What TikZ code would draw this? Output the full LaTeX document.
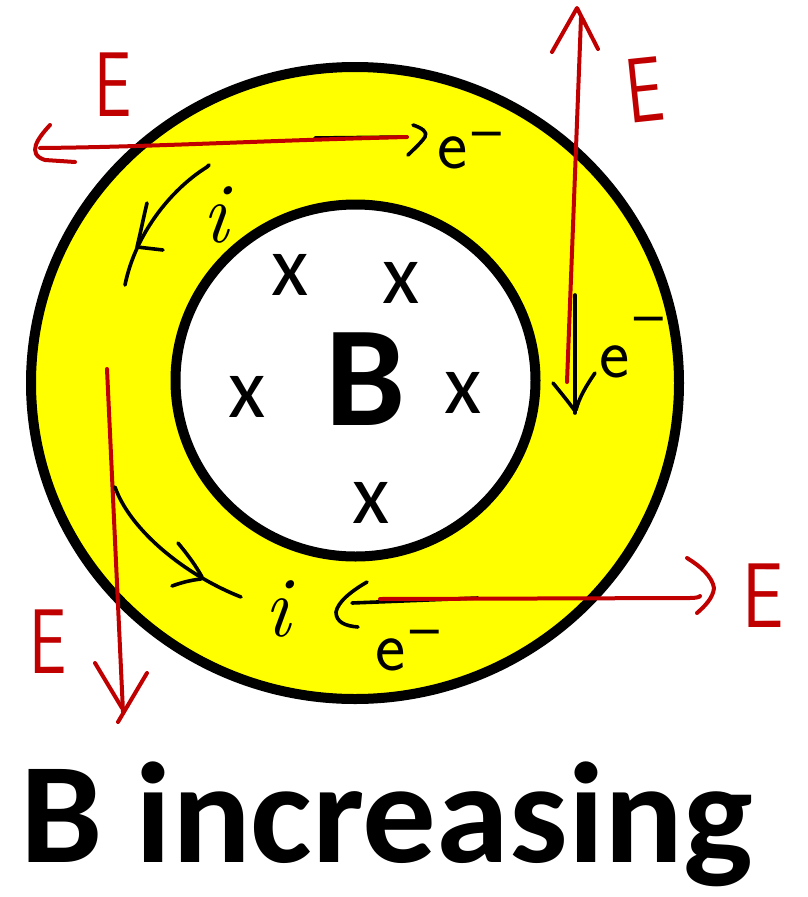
\documentclass[tikz,border=0pt]{standalone}
\usepackage{fontspec}
\newfontfamily\carlito{Carlito}
\newfontfamily\dejavu{DejaVu Sans}
\definecolor{inkred}{RGB}{192,0,0}
\definecolor{ringyellow}{RGB}{255,255,0}
\newcommand\eminus[1]{e\raisebox{#1}{\dejavu\fontsize{46}{46}\selectfont −}}
\begin{document}
\begin{tikzpicture}[x=1pt,y=-1pt,
  redink/.style={draw=inkred,line width=4pt,line cap=round,line join=round},
  blackink/.style={draw=black,line width=3.6pt,line cap=round,line join=round},
  ringline/.style={draw=black,line width=10pt},
  bigB/.style={inner sep=0pt,font=\carlito\bfseries\fontsize{143}{143}\selectfont},
  titletext/.style={inner sep=0pt,font=\carlito\bfseries\fontsize{138}{138}\selectfont},
  cross/.style={inner sep=0pt,font=\carlito\fontsize{86}{86}\selectfont},
  Elabel/.style={inner sep=0pt,text=inkred,font=\sffamily\fontsize{92}{92}\selectfont},
  elabel/.style={inner sep=0pt,anchor=base west,font=\sffamily\fontsize{72}{72}\selectfont},
  ilabel/.style={inner sep=0pt,font=\itshape\fontsize{86}{86}\selectfont}]
\useasboundingbox (0,0) rectangle (807,897);
\fill[white] (0,0) rectangle (807,897);
% ring
\fill[ringyellow,even odd rule] (355,383) ellipse [x radius=324pt,y radius=316pt]
      (355.5,380.5) ellipse [x radius=180pt,y radius=176pt];
\draw[ringline] (355,383) ellipse [x radius=324pt,y radius=316pt];
\draw[ringline] (355.5,380.5) ellipse [x radius=180pt,y radius=176pt];
% inner labels
\node[bigB,anchor=base] (Bc) at (366,425) {B};
\node[cross] (x1) at (290,275) {x};
\node[cross] (x2) at (401,283) {x};
\node[cross] (x3) at (247,397) {x};
\node[cross] (x4) at (463,393) {x};
\node[cross] (x5) at (371,503) {x};
% title
\node[titletext,anchor=base west] (title) at (20,862) {\scalebox{1.065}[1.04]{B increasing}};
% E labels
\node[Elabel] (E1) at (113,85) {\scalebox{0.72}[1]{E}};
\node[Elabel,rotate=6] (E2) at (645,90) {\scalebox{0.72}[1]{E}};
\node[Elabel] (E3) at (763,596) {\scalebox{0.8}[1]{E}};
\node[Elabel] (E4) at (48,642) {\scalebox{0.72}[1]{E}};
% e- labels
\node[elabel] (e1) at (437,168) {\eminus{20pt}};
\node[elabel] (e2) at (599,377) {\eminus{44pt}};
\node[elabel] (e3) at (375,670) {\eminus{24pt}};
% i labels
\node[ilabel] (i1) at (215,215) {i};
\node[ilabel] (i2) at (277,609) {i};
% ---- top arrow (E to the left, e- to the right)
\coordinate (t1) at (407,137);
\coordinate (t2) at (40,148);
\draw[blackink] (315,138) -- (t1);
\draw[redink] (t1) .. controls (250,141) and (150,147) .. (t2);
\draw[redink] (50,125) .. controls (38,138) and (26,154) .. (45,160) -- (75,162);
\draw[blackink] (413,125) .. controls (422,128) and (428,132) .. (425,137) .. controls (420,144) and (413,150) .. (408,155);
% ---- right arrows
\coordinate (r1) at (567,382);
\coordinate (r2) at (581,18);
\draw[redink] (r1) -- (r2);
\draw[redink] (552,52) -- (577,8) -- (598,49);
\coordinate (rb1) at (575,295);
\coordinate (rb2) at (575,413);
\draw[blackink] (rb1) -- (rb2);
\draw[blackink] (553,383) .. controls (562,394) and (570,404) .. (575,411);
\draw[blackink] (595,373) .. controls (586,386) and (579,398) .. (576,410);
% ---- left arrow down
\coordinate (l1) at (107,369);
\coordinate (l2) at (123,712);
\draw[redink] (l1) -- (l2);
\draw[redink] (95,663) -- (122,708);
\draw[redink] (147,673) -- (118,722);
% ---- current arrows
\coordinate (c1) at (207,167);
\coordinate (c2) at (125,285);
\draw[blackink] (209,165) -- (c1) .. controls (170,190) and (135,235) .. (c2);
\draw[blackink] (147,203) .. controls (143,220) and (140,235) .. (137,247) -- (163,250);
\coordinate (c3) at (115,487);
\coordinate (c4) at (241,597);
\draw[blackink] (c3) .. controls (130,530) and (185,575) .. (c4);
\draw[blackink] (178,543) .. controls (188,555) and (196,566) .. (202,577);
\draw[blackink] (172,586) .. controls (183,582) and (192,580) .. (201,579);
% ---- bottom arrow
\coordinate (b1) at (380,599);
\coordinate (b2) at (700,596);
\draw[blackink] (352,603) -- (478,598);
\draw[redink] (b1) -- (690,598) .. controls (696,598) and (700,597) .. (b2);
\draw[redink] (687,558) .. controls (700,566) and (712,576) .. (714,588) .. controls (713,598) and (705,606) .. (697,613);
\draw[blackink] (367,582) .. controls (350,592) and (338,602) .. (336,612) .. controls (336,622) and (345,626) .. (358,627);
\end{tikzpicture}
\end{document}
